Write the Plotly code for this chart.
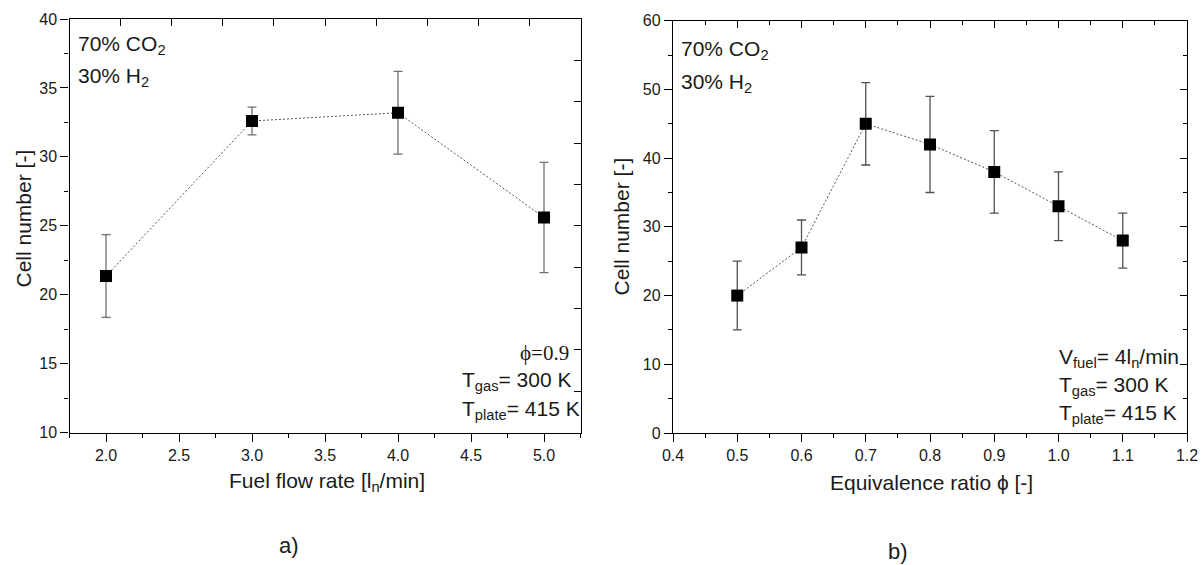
import plotly.graph_objects as go

# ---------------- data ----------------
flow_rate = [2.0, 3.0, 4.0, 5.0]
cells_a = [21.35, 32.6, 33.2, 25.6]
err_a = [3.0, 1.0, 3.0, 4.0]

phi = [0.5, 0.6, 0.7, 0.8, 0.9, 1.0, 1.1]
cells_b = [20, 27, 45, 42, 38, 33, 28]
err_b = [5, 4, 6, 7, 6, 5, 4]

W, H = 1204, 565
FONT = "Arial, Liberation Sans, sans-serif"
SERIF = "Times New Roman, Liberation Serif, serif"
TXT = "#1a1a1a"


def px(x):
    return x / W


def py(y):
    return 1 - y / H


fig = go.Figure()

fig.add_trace(go.Scatter(
    x=flow_rate, y=cells_a, mode="lines+markers", xaxis="x", yaxis="y",
    line=dict(color="#555555", width=1, dash="2px,2px"),
    marker=dict(symbol="square", size=12, color="black", line=dict(width=0)),
    error_y=dict(type="data", array=err_a, visible=True, color="#707070",
                 thickness=1.3, width=4.5),
    showlegend=False, hoverinfo="x+y"))

fig.add_trace(go.Scatter(
    x=phi, y=cells_b, mode="lines+markers", xaxis="x2", yaxis="y2",
    line=dict(color="#555555", width=1, dash="2px,2px"),
    marker=dict(symbol="square", size=12, color="black", line=dict(width=0)),
    error_y=dict(type="data", array=err_b, visible=True, color="#505050",
                 thickness=1.3, width=4.5),
    showlegend=False, hoverinfo="x+y"))

# empty helper traces so the overlay tick axes are drawn
for xa, ya in [("x3", "y"), ("x", "y3"), ("x4", "y2"), ("x2", "y4")]:
    fig.add_trace(go.Scatter(x=[], y=[], xaxis=xa, yaxis=ya,
                             showlegend=False, hoverinfo="skip"))

dom_ax = [px(69.5), px(580.5)]
dom_ay = [py(432.5), py(19)]
dom_bx = [px(673), px(1187)]
dom_by = [py(433), py(20.7)]

tickfont = dict(family=FONT, size=16, color=TXT)
common = dict(showgrid=False, zeroline=False, showline=True, linecolor="black",
              linewidth=1.3, mirror=True, ticks="outside", ticklen=8,
              tickwidth=1.3, tickcolor="black", tickfont=tickfont, automargin=False)
inner = dict(showgrid=False, zeroline=False, showline=False, ticks="inside",
             tickwidth=1.3, tickcolor="black", showticklabels=False, automargin=False)

fig.update_layout(
    width=W, height=H, margin=dict(l=0, r=0, t=0, b=0, pad=0, autoexpand=False),
    paper_bgcolor="white", plot_bgcolor="white", showlegend=False,
    xaxis=dict(domain=dom_ax, anchor="y", range=[1.75, 5.25], tick0=2.0, dtick=0.5,
               tickformat=".1f",
               minor=dict(ticks="outside", ticklen=4, dtick=0.25, tick0=2.0,
                          tickwidth=1.3, tickcolor="black", showgrid=False),
               **common),
    yaxis=dict(domain=dom_ay, anchor="x", range=[10, 40], tick0=10, dtick=5,
               minor=dict(ticks="outside", ticklen=4, dtick=2.5, tick0=10,
                          tickwidth=1.3, tickcolor="black", showgrid=False),
               **common),
    xaxis3=dict(overlaying="x", anchor="y", side="top", range=[0, 1], tick0=0,
                dtick=0.1, ticklen=7, **inner),
    yaxis3=dict(overlaying="y", anchor="x", side="right", range=[0, 1], tick0=0,
                dtick=0.1, ticklen=7, **inner),
    xaxis2=dict(domain=dom_bx, anchor="y2", range=[0.4, 1.2], tick0=0.4, dtick=0.1,
                tickformat=".1f",
                minor=dict(ticks="outside", ticklen=4, dtick=0.05, tick0=0.4,
                           tickwidth=1.3, tickcolor="black", showgrid=False),
                **common),
    yaxis2=dict(domain=dom_by, anchor="x2", range=[0, 60], tick0=0, dtick=10,
                minor=dict(ticks="outside", ticklen=4, dtick=5, tick0=0,
                           tickwidth=1.3, tickcolor="black", showgrid=False),
                **common),
    xaxis4=dict(overlaying="x2", anchor="y2", side="top", range=[0.4, 1.2], tick0=0.4,
                dtick=0.1, ticklen=7,
                minor=dict(ticks="inside", ticklen=4, dtick=0.05, tick0=0.4,
                           tickwidth=1.3, tickcolor="black", showgrid=False),
                **inner),
    yaxis4=dict(overlaying="y2", anchor="x2", side="right", range=[0, 60], tick0=0,
                dtick=10, ticklen=7,
                minor=dict(ticks="inside", ticklen=4, dtick=5, tick0=0,
                           tickwidth=1.3, tickcolor="black", showgrid=False),
                **inner),
)


def note(text, x, y, size=21, xanchor="left", family=FONT, angle=0):
    fig.add_annotation(text=text, x=px(x), y=py(y), xref="paper", yref="paper",
                       xanchor=xanchor, yanchor="middle", showarrow=False,
                       textangle=angle, font=dict(family=family, size=size, color=TXT))


# panel a texts
note("70% CO<sub>2</sub>", 76, 45)
note("30% H<sub>2</sub>", 76, 77)
note("ϕ=0.9", 571, 353, size=21, xanchor="right", family=SERIF)
note("T<sub>gas</sub>= 300 K", 460, 381)
note("T<sub>plate</sub>= 415 K", 460, 410)
# panel b texts
note("70% CO<sub>2</sub>", 679, 50)
note("30% H<sub>2</sub>", 679, 83)
note("V<sub>fuel</sub>= 4l<sub>n</sub>/min", 1057, 358)
note("T<sub>gas</sub>= 300 K", 1057, 386)
note("T<sub>plate</sub>= 415 K", 1057, 414)

# axis titles
note("Cell number [-]", 22.5, 219, xanchor="center", angle=-90)
note("Cell number [-]", 620.5, 226, xanchor="center", angle=-90)
note("Fuel flow rate [l<sub>n</sub>/min]", 327, 482, xanchor="center")
note("Equivalence ratio ϕ [-]", 931, 482, xanchor="center")
note("a)", 289, 545, size=22, xanchor="center")
note("b)", 898, 551, size=22, xanchor="center")

fig.write_html(
    "out.html",
    config={"displayModeBar": False},
    post_script="document.body.style.margin='0';document.body.style.overflow='hidden';",
)
